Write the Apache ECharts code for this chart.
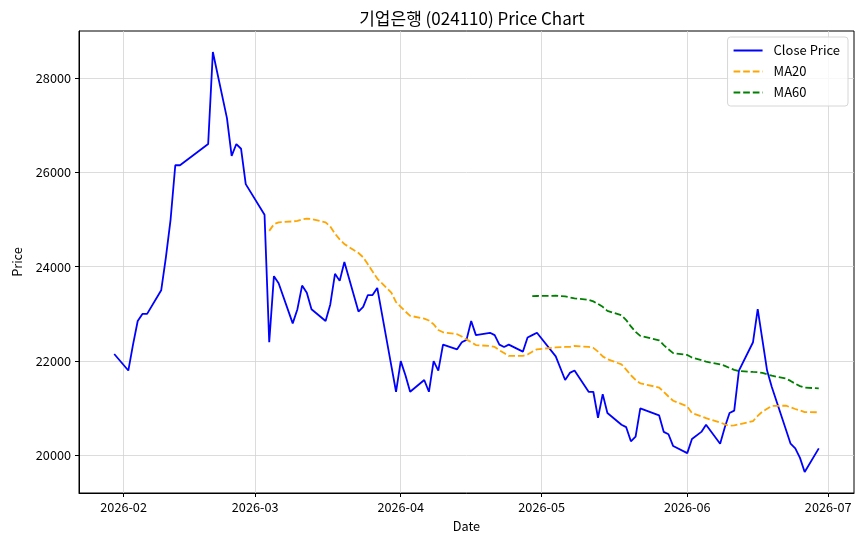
<!DOCTYPE html>
<html>
<head>
<meta charset="utf-8">
<script src="https://cdn.jsdelivr.net/npm/echarts@6/dist/echarts.min.js"></script>
<style>
  html, body { margin: 0; padding: 0; background: #fff; }
  #main { width: 864px; height: 546px; }
</style>
</head>
<body>
<div id="main"></div>
<script>
'use strict'

// trading days (KRX calendar)
const dates = [
  '2026-01-30',
  '2026-02-02', '2026-02-03', '2026-02-04', '2026-02-05', '2026-02-06',
  '2026-02-09', '2026-02-10', '2026-02-11', '2026-02-12', '2026-02-13',
  '2026-02-19', '2026-02-20',
  '2026-02-23', '2026-02-24', '2026-02-25', '2026-02-26', '2026-02-27',
  '2026-03-03', '2026-03-04', '2026-03-05', '2026-03-06',
  '2026-03-09', '2026-03-10', '2026-03-11', '2026-03-12', '2026-03-13',
  '2026-03-16', '2026-03-17', '2026-03-18', '2026-03-19', '2026-03-20',
  '2026-03-23', '2026-03-24', '2026-03-25', '2026-03-26', '2026-03-27',
  '2026-03-30', '2026-03-31', '2026-04-01', '2026-04-02', '2026-04-03',
  '2026-04-06', '2026-04-07', '2026-04-08', '2026-04-09', '2026-04-10',
  '2026-04-13', '2026-04-14', '2026-04-15', '2026-04-16', '2026-04-17',
  '2026-04-20', '2026-04-21', '2026-04-22', '2026-04-23', '2026-04-24',
  '2026-04-27', '2026-04-28', '2026-04-29', '2026-04-30',
  '2026-05-04', '2026-05-06', '2026-05-07', '2026-05-08',
  '2026-05-11', '2026-05-12', '2026-05-13', '2026-05-14', '2026-05-15',
  '2026-05-18', '2026-05-19', '2026-05-20', '2026-05-21', '2026-05-22',
  '2026-05-26', '2026-05-27', '2026-05-28', '2026-05-29',
  '2026-06-01', '2026-06-02', '2026-06-04', '2026-06-05',
  '2026-06-08', '2026-06-09', '2026-06-10', '2026-06-11', '2026-06-12',
  '2026-06-15', '2026-06-16', '2026-06-17', '2026-06-18', '2026-06-19',
  '2026-06-22', '2026-06-23', '2026-06-24', '2026-06-25', '2026-06-26',
  '2026-06-29'
];

const closePrice = [
  22150,
  21800, 22350, 22850, 23000, 23000,
  23500, 24200, 25000, 26150, 26150,
  26600, 28550,
  27150, 26350, 26600, 26500, 25750,
  25100, 22400, 23800, 23650,
  22800, 23100, 23600, 23450, 23100,
  22850, 23200, 23850, 23700, 24100,
  23050, 23150, 23400, 23400, 23550,
  21900, 21350, 22000, 21700, 21350,
  21600, 21350, 22000, 21800, 22350,
  22250, 22400, 22450, 22850, 22550,
  22600, 22550, 22350, 22300, 22350,
  22200, 22500, 22550, 22600,
  22100, 21600, 21750, 21800,
  21350, 21350, 20800, 21300, 20900,
  20650, 20600, 20300, 20400, 21000,
  20850, 20500, 20450, 20200,
  20050, 20350, 20500, 20650,
  20250, 20600, 20900, 20950, 21800,
  22400, 23100, 22450, 21800, 21450,
  20550, 20250, 20150, 19950, 19650,
  20150
];

// MA20 starts on the 20th trading day (2026-03-04)
const ma20 = [
  24760, 24900, 24940,
  24960, 24970, 25000, 25020, 25010,
  24940, 24850, 24700, 24580, 24480,
  24290, 24200, 24050, 23900, 23750,
  23450, 23250, 23150, 23050, 22960,
  22900, 22860, 22780, 22660, 22610,
  22570, 22520, 22460, 22400, 22340,
  22320, 22300, 22230, 22170, 22110,
  22110, 22140, 22200, 22250,
  22290, 22300, 22300, 22320,
  22300, 22280, 22200, 22100, 22040,
  21930, 21820, 21700, 21600, 21530,
  21440, 21350, 21250, 21160,
  21040, 20900, 20830, 20790,
  20700, 20660, 20630, 20640, 20660,
  20730, 20840, 20930, 20990, 21050,
  21055, 21020, 20985, 20955, 20920,
  20915
];

// MA60 starts on the 60th trading day (2026-04-29)
const ma60 = [
  23375, 23380,
  23385, 23370, 23350, 23330,
  23300, 23265, 23210, 23150, 23065,
  22970, 22870, 22735, 22620, 22535,
  22440, 22340, 22250, 22170,
  22130, 22075, 22020, 21990,
  21930, 21900, 21855, 21815, 21790,
  21770, 21765, 21750, 21720, 21690,
  21630, 21580, 21520, 21470, 21440,
  21420
];

const monthTicks = ['2026-02-01', '2026-03-01', '2026-04-01', '2026-05-01', '2026-06-01', '2026-07-01'];
const priceTicks = [20000, 22000, 24000, 26000, 28000];

function toTime(s) {
  let p = s.split('-');
  return new Date(+p[0], +p[1] - 1, +p[2]).getTime();
}

function pairs(dd, vals) {
  let out = [];
  for (let i = 0; i < vals.length; i++) {
    out.push([toTime(dd[i]), vals[i]]);
  }
  return out;
}

var myChart = echarts.init(document.getElementById('main'));

const font = '"Noto Sans CJK KR", "Noto Sans", sans-serif';
const monthValues = monthTicks.map(toTime);
const dash = [6.7, 2.9];

// legend icons: a plain line and a dashed line
const solidIcon = 'path://M0,0h29v2h-29z';
const dashIcon = 'path://M0,0h6.7v2h-6.7z M9.6,0h6.7v2h-6.7z M19.2,0h6.7v2h-6.7z M28.6,0h0.4v2h-0.4z';

var option = {
  animation: false,
  backgroundColor: '#ffffff',
  textStyle: { fontFamily: font },
  title: {
    text: '기업은행 (024110) Price Chart',
    left: 467,
    textAlign: 'center',
    top: 5,
    textStyle: { fontSize: 17, fontWeight: 'normal', color: '#000', fontFamily: font }
  },
  legend: {
    orient: 'vertical',
    right: 16,
    top: 37,
    itemWidth: 29,
    itemHeight: 14,
    itemGap: 8,
    padding: [7, 8, 7, 6],
    borderColor: '#d6d6d6',
    borderWidth: 1,
    borderRadius: 3,
    backgroundColor: 'rgba(255,255,255,0.8)',
    textStyle: { fontSize: 13, color: '#000', fontFamily: font, padding: [0, 0, 0, 6] },
    data: [
      { name: 'Close Price', icon: solidIcon },
      { name: 'MA20', icon: dashIcon },
      { name: 'MA60', icon: dashIcon }
    ]
  },
  grid: {
    left: 79, right: 10, top: 31, bottom: 53,
    show: true, borderColor: '#000', borderWidth: 1
  },
  xAxis: {
    type: 'value',
    min: new Date(2026, 0, 22, 12).getTime(),
    max: new Date(2026, 6, 6, 12).getTime(),
    name: 'Date',
    nameLocation: 'middle',
    nameGap: 27,
    nameTextStyle: { fontSize: 12.7, color: '#000', fontFamily: font },
    axisLine: { lineStyle: { color: '#000', width: 1 } },
    axisTick: { show: true, length: 4, lineStyle: { color: '#000' }, customValues: monthValues },
    axisLabel: {
      fontSize: 12.7, color: '#000', margin: 8, fontFamily: font,
      customValues: monthValues,
      formatter: function (v) {
        let d = new Date(v);
        let m = d.getMonth() + 1;
        return d.getFullYear() + '-' + (m < 10 ? '0' + m : m);
      }
    },
    splitLine: { show: true, lineStyle: { color: '#d3d3d3', width: 0.8 } }
  },
  yAxis: {
    type: 'value',
    min: 19205,
    max: 28995,
    name: 'Price',
    nameLocation: 'middle',
    nameRotate: 90,
    nameGap: 55,
    nameTextStyle: { fontSize: 12.7, color: '#000', fontFamily: font },
    axisLine: { show: true, lineStyle: { color: '#000', width: 1 } },
    axisTick: { show: true, length: 4, lineStyle: { color: '#000' }, customValues: priceTicks },
    axisLabel: {
      fontSize: 12.7, color: '#000', margin: 8, fontFamily: font, customValues: priceTicks,
      formatter: function (v) { return String(v); }
    },
    splitLine: { show: true, lineStyle: { color: '#d3d3d3', width: 0.8 } }
  },
  series: [
    {
      name: 'Close Price',
      type: 'line',
      data: pairs(dates, closePrice),
      showSymbol: false,
      symbol: 'none',
      lineStyle: { color: '#0000ff', width: 1.8 },
      itemStyle: { color: '#0000ff' }
    },
    {
      name: 'MA20',
      type: 'line',
      data: pairs(dates.slice(19), ma20),
      showSymbol: false,
      symbol: 'none',
      lineStyle: { color: '#ffa500', width: 1.8, type: dash },
      itemStyle: { color: '#ffa500' }
    },
    {
      name: 'MA60',
      type: 'line',
      data: pairs(dates.slice(59), ma60),
      showSymbol: false,
      symbol: 'none',
      lineStyle: { color: '#008000', width: 1.8, type: dash },
      itemStyle: { color: '#008000' }
    }
  ]
};

myChart.setOption(option);
</script>
</body>
</html>
